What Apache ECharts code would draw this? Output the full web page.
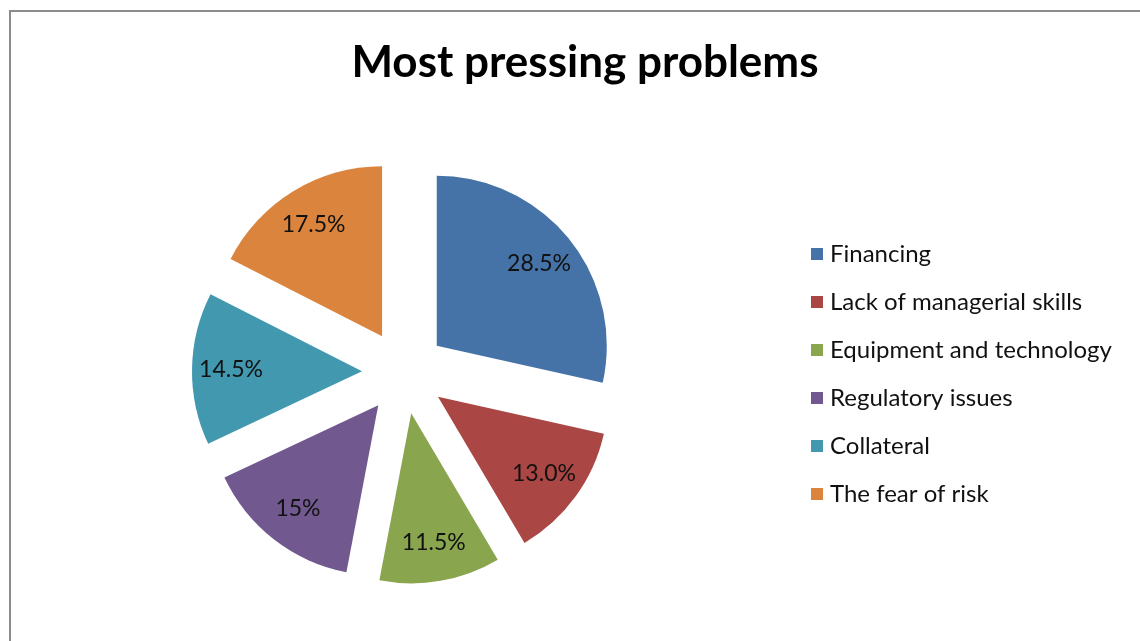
<!DOCTYPE html>
<html>
<head>
<meta charset="utf-8">
<script src="https://cdn.jsdelivr.net/npm/echarts@6/dist/echarts.min.js"></script>
<style>
  html, body { margin: 0; padding: 0; background: #fff; }
  #chart { width: 1140px; height: 641px; }
</style>
</head>
<body>
<div id="chart"></div>
<script>
const categories = ['Financing', 'Lack of managerial skills', 'Equipment and technology', 'Regulatory issues', 'Collateral', 'The fear of risk']
const values = [28.5, 13.0, 11.5, 15, 14.5, 17.5]
const labels = ['28.5%', '13.0%', '11.5%', '15%', '14.5%', '17.5%']
const colors = ['#4572A7', '#AA4643', '#89A54E', '#71588F', '#4198AF', '#DB843D']

const font = 'Lato, "Open Sans", sans-serif'
const chart = echarts.init(document.getElementById('chart'))

const sliceData = categories.map((name, i) => ({
  name,
  value: values[i],
  selected: true,
  itemStyle: { color: colors[i] }
}))

const labelData = categories.map((name, i) => ({
  name,
  value: values[i],
  selected: true,
  label: { formatter: labels[i] }
}))

chart.setOption({
  animation: false,
  title: {
    text: 'Most pressing problems',
    left: 580,
    textAlign: 'center',
    top: 36,
    textStyle: { fontFamily: font, fontSize: 44, fontWeight: 'bold', color: '#000' }
  },
  legend: {
    orient: 'vertical',
    left: 806,
    top: 237,
    itemWidth: 12,
    itemHeight: 12,
    itemGap: 24,
    icon: 'rect',
    data: categories,
    textStyle: { fontFamily: font, fontSize: 24, color: '#111', lineHeight: 24, padding: [0, 0, 0, 2] }
  },
  graphic: [{
    type: 'rect',
    shape: { x: 10, y: 11, width: 1200, height: 700 },
    style: { fill: 'none', stroke: '#8c8c8c', lineWidth: 2 },
    silent: true
  }],
  series: [
    {
      type: 'pie',
      center: [404, 372],
      radius: [0, 170],
      startAngle: 90,
      selectedMode: 'multiple',
      selectedOffset: 42,
      emphasis: { disabled: true },
      label: { show: false },
      labelLine: { show: false },
      data: sliceData
    },
    {
      type: 'pie',
      center: [404, 372],
      radius: [86, 170],
      startAngle: 90,
      selectedMode: 'multiple',
      selectedOffset: 42,
      silent: true,
      emphasis: { disabled: true },
      itemStyle: { color: 'rgba(0,0,0,0)' },
      label: {
        show: true,
        position: 'inside',
        fontFamily: font,
        fontSize: 23,
        color: '#111'
      },
      labelLine: { show: false },
      data: labelData
    }
  ]
})

window.addEventListener('resize', () => chart.resize())
</script>
</body>
</html>
